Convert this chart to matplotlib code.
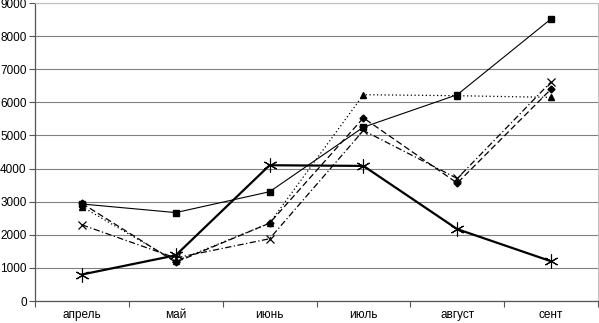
import matplotlib
matplotlib.use('Agg')
import matplotlib.pyplot as plt

months = ['апрель', 'май', 'июнь', 'июль', 'август', 'сент']
s_square = [2930, 2670, 3300, 5250, 6230, 8520]
s_triangle = [2850, 1200, 2350, 6230, 6200, 6150]
s_diamond = [2950, 1170, 2350, 5530, 3560, 6400]
s_cross = [2300, 1300, 1880, 5150, 3700, 6620]
s_star = [800, 1380, 4100, 4080, 2170, 1200]

plt.rcParams['font.family'] = ['Liberation Sans', 'DejaVu Sans']

fig = plt.figure(figsize=(5.99, 3.23), dpi=100)
ax = fig.add_axes([35 / 599, 22 / 323, 563 / 599, 298 / 323])

x = [i + 0.5 for i in range(len(months))]
ax.plot(x, s_triangle, color='black', lw=0.9, ls=(0, (1, 2)), marker='^', ms=4.5)
ax.plot(x, s_diamond, color='black', lw=0.9, ls=(0, (5, 2.5)), marker='D', ms=3.5)
ax.plot(x, s_cross, color='black', lw=0.9, ls=(0, (5, 2, 1, 2)), marker='x', ms=6, mew=0.9)
ax.plot(x, s_square, color='black', lw=0.8, ls='-', marker='s', ms=4.5)
ax.plot(x, s_star, color='black', lw=1.6, ls='-', marker=(6, 2, 0), ms=10, mew=0.8)

ax.set_xlim(0, len(months))
ax.set_ylim(0, 9000)
ax.set_yticks(range(0, 9001, 1000))
ax.set_xticks(range(len(months) + 1))
ax.set_xticklabels([])
ax.set_xticks(x, minor=True)
ax.set_xticklabels(months, minor=True)
ax.tick_params(axis='x', which='minor', length=0, pad=6, labelsize=8.5)
ax.tick_params(axis='x', which='major', length=4, direction='out', color='#555555')
ax.tick_params(axis='y', length=4, direction='out', labelsize=8.5, color='#555555', pad=2)

ax.grid(axis='y', color='#808080', lw=0.8)
ax.set_axisbelow(True)
for side in ['left', 'bottom']:
    ax.spines[side].set_color('#555555')
    ax.spines[side].set_linewidth(0.9)
for side in ['top', 'right']:
    ax.spines[side].set_color('#c0c0c0')
    ax.spines[side].set_linewidth(0.8)

fig.savefig('out.png', dpi=100)
